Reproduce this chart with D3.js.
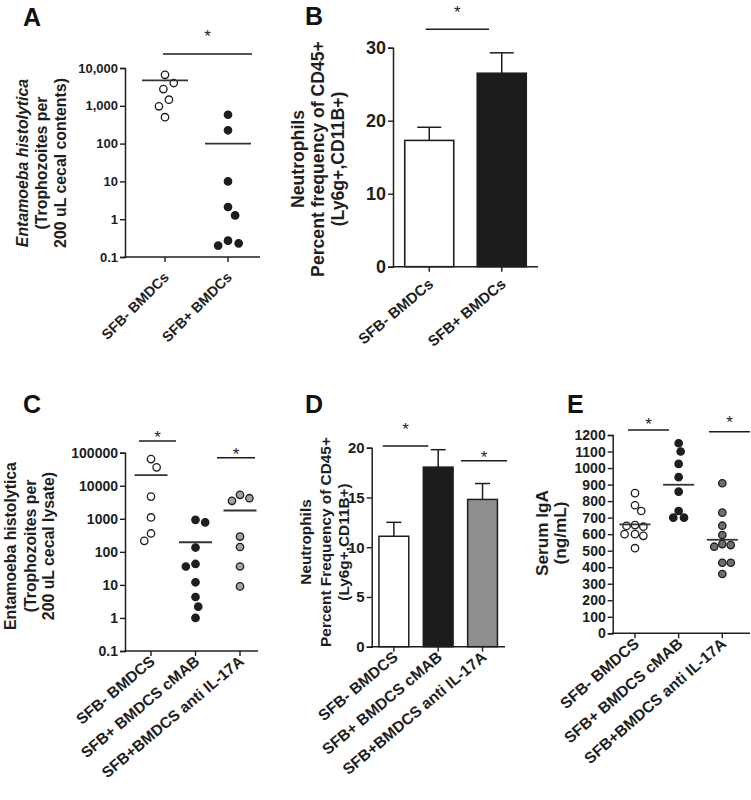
<!DOCTYPE html>
<html><head><meta charset="utf-8">
<script src="https://cdn.jsdelivr.net/npm/d3@7"></script>
<style>
body{margin:0;background:#fff;}
svg{display:block;font-family:"Liberation Sans",Arial,sans-serif;}
</style></head>
<body>
<svg id="chart" width="751" height="800"></svg>
<script>
// ---------- DATA ----------
const groupsA = ["SFB- BMDCs", "SFB+ BMDCs"];
const pointsA1 = [6600, 4000, 2770, 1450, 970, 500];
const pointsA2 = [580, 225, 10, 2.1, 1.26, 0.27, 0.2, 0.23];
const meansA = [4700, 100];
const ticksA = [0.1, 1, 10, 100, 1000, 10000];
const tickLabelsA = ["0.1", "1", "10", "100", "1,000", "10,000"];
const yLabelA = ["Entamoeba histolytica", "(Trophozoites per", "200 uL cecal contents)"];

const groupsB = ["SFB- BMDCs", "SFB+ BMDCs"];
const meansB = [17.3, 26.5];
const semB = [1.8, 2.8];
const ticksB = [0, 10, 20, 30];
const yLabelB = ["Neutrophils", "Percent frequency of CD45+", "(Ly6g+,CD11B+)"];

const groupsC = ["SFB- BMDCS", "SFB+ BMDCS cMAB", "SFB+BMDCS anti IL-17A"];
const pointsC1 = [64000, 36000, 4700, 1100, 360, 215];
const pointsC2 = [930, 780, 135, 43, 36, 12, 4.3, 2.2, 1.0];
const pointsC3 = [5300, 4200, 3500, 290, 140, 36, 9];
const meansC = [21000, 195, 1780];
const ticksC = [0.1, 1, 10, 100, 1000, 10000, 100000];
const tickLabelsC = ["0.1", "1", "10", "100", "1000", "10000", "100000"];
const yLabelC = ["Entamoeba histolytica", "(Trophozoites per", "200 uL cecal lysate)"];

const groupsD = ["SFB- BMDCS", "SFB+ BMDCS cMAB", "SFB+BMDCS anti IL-17A"];
const meansD = [11.1, 18.05, 14.8];
const semD = [1.4, 1.75, 1.6];
const ticksD = [0, 5, 10, 15, 20];
const yLabelD = ["Neutrophils", "Percent Frequency of CD45+", "(Ly6g+,CD11B+)"];

const groupsE = ["SFB- BMDCS", "SFB+ BMDCS cMAB", "SFB+BMDCS anti IL-17A"];
const pointsE1 = [848, 775, 740, 655, 650, 645, 600, 600, 590, 515];
const pointsE2 = [1150, 1100, 1025, 945, 857, 740, 700, 700];
const pointsE3 = [908, 730, 651, 595, 540, 534, 524, 427, 427, 359];
const meansE = [659, 899, 566];
const ticksE = [0, 100, 200, 300, 400, 500, 600, 700, 800, 900, 1000, 1100, 1200];
const yLabelE = ["Serum IgA", "(ng/mL)"];

// ---------- HELPERS ----------
const svg = d3.select("#chart");
const INK = "#1e1e1e";
const FONT = '"Liberation Sans",Arial,sans-serif';

function yAxis(g, scale, x, ticks, labels, fs) {
  const ax = d3.axisLeft(scale).tickValues(ticks).tickSizeOuter(0).tickSize(5).tickPadding(2)
    .tickFormat((d, i) => labels ? labels[i] : d);
  const a = g.append("g").attr("transform", `translate(${x},0)`).call(ax);
  a.select(".domain").attr("stroke", INK).attr("stroke-width", 1.5);
  a.selectAll(".tick line").attr("stroke", INK).attr("stroke-width", 1.4);
  a.selectAll("text").attr("font-family", FONT).attr("font-weight", "bold")
    .attr("font-size", fs).attr("fill", INK);
}

// fit a set of texts so the reference line reaches a target length
function fit(sel, refIdx, fs0, target) {
  sel.attr("font-size", fs0);
  const len = sel.nodes()[refIdx].getComputedTextLength();
  sel.attr("font-size", fs0 * target / len);
}

function xAxis(g, centers, labels, x0, x1, y, dx, dy, ang, target) {
  g.append("line").attr("x1", x0 - 0.75).attr("x2", x1).attr("y1", y).attr("y2", y)
    .attr("stroke", INK).attr("stroke-width", 1.5);
  centers.forEach((cx) => {
    g.append("line").attr("x1", cx).attr("x2", cx).attr("y1", y).attr("y2", y + 5)
      .attr("stroke", INK).attr("stroke-width", 1.4);
  });
  const t = g.selectAll(null).data(labels).enter().append("text")
    .attr("transform", (d, i) => `translate(${centers[i] + dx},${y + dy}) rotate(${-ang})`)
    .attr("text-anchor", "end").attr("font-family", FONT).attr("font-weight", "bold")
    .attr("fill", INK).text(d => d);
  fit(t, labels.length - 1, 16, target);
}

function yLabel(g, lines, xs, cy, refIdx, target, italicFirst) {
  const t = g.selectAll(null).data(lines).enter().append("text")
    .attr("transform", (d, i) => `translate(${xs[i]},${cy}) rotate(-90)`)
    .attr("text-anchor", "middle").attr("dominant-baseline", "central")
    .attr("font-family", FONT).attr("font-weight", "bold")
    .attr("font-style", (d, i) => italicFirst && i === 0 ? "italic" : "normal")
    .attr("fill", INK).text(d => d);
  fit(t, refIdx, 16, target);
}

function letter(g, t, x, y) {
  g.append("text").attr("x", x).attr("y", y).attr("font-family", FONT).attr("font-weight", "bold")
    .attr("font-size", 25).attr("fill", "#111").text(t);
}

function sig(g, x1, x2, y, starY) {
  g.append("line").attr("x1", x1).attr("x2", x2).attr("y1", y).attr("y2", y)
    .attr("stroke", INK).attr("stroke-width", 1.5);
  g.append("text").attr("x", (x1 + x2) / 2).attr("y", starY + 10).attr("text-anchor", "middle")
    .attr("font-family", FONT).attr("font-size", 17)
    .attr("fill", INK).text("*");
}

// beeswarm offsets (pixel) computed from pixel y positions
function swarm(ys, D) {
  const placed = [];
  let flip = 1;
  return ys.map(y => {
    const cands = [0];
    placed.forEach(p => {
      const dy = Math.abs(p.y - y);
      if (dy < D) { const dx = Math.sqrt(D * D - dy * dy); cands.push(p.x + dx, p.x - dx); }
    });
    const ok = cands.filter(c => placed.every(p => Math.hypot(p.x - c, p.y - y) >= D - 0.01));
    ok.sort((a, b) => (Math.abs(a) - Math.abs(b)) || (flip * (b - a)));
    const x = ok[0];
    if (x !== 0) flip = -flip;
    placed.push({ x, y });
    return x;
  });
}

function dots(g, vals, cx, scale, fill, stroke, D) {
  const ys = vals.map(v => scale(v));
  const off = swarm(ys, D);
  g.selectAll(null).data(vals).enter().append("circle")
    .attr("cx", (d, i) => cx + off[i]).attr("cy", d => scale(d)).attr("r", 3.7)
    .attr("fill", fill).attr("stroke", stroke).attr("stroke-width", 1.3);
}

function meanLine(g, cx, y, w) {
  g.append("line").attr("x1", cx - w / 2).attr("x2", cx + w / 2).attr("y1", y).attr("y2", y)
    .attr("stroke", "#333").attr("stroke-width", 1.8);
}

// ---------- PANEL A ----------
{
  const g = svg.append("g");
  const y = d3.scaleLog().domain([0.1, 10000]).range([257, 68]);
  const x = d3.scalePoint().domain(groupsA).range([165, 228]);
  yAxis(g, y, 125, ticksA, tickLabelsA, 13);
  xAxis(g, groupsA.map(d => x(d)), groupsA, 125, 260, 257, 5, 21, 45, 92);
  dots(g, pointsA1, x(groupsA[0]), y, "#fff", INK, 12);
  dots(g, pointsA2, x(groupsA[1]), y, INK, INK, 11);
  meansA.forEach((m, i) => meanLine(g, x(groupsA[i]), y(m), 46));
  sig(g, 163, 252, 54, 32);
  yLabel(g, yLabelA, [22, 41, 60], 163, 2, 170, true);
  letter(g, "A", 23, 26);
}

// ---------- PANEL B ----------
{
  const g = svg.append("g");
  const y = d3.scaleLinear().domain([0, 30]).range([266.7, 47.7]);
  const x = d3.scaleBand().domain(groupsB).range([393, 538]).paddingInner(0.324).paddingOuter(0.162);
  const fills = ["#fff", "#1c1c1c"];
  groupsB.forEach((gname, i) => {
    const cx = x(gname) + x.bandwidth() / 2;
    g.append("line").attr("x1", cx).attr("x2", cx).attr("y1", y(meansB[i])).attr("y2", y(meansB[i] + semB[i]))
      .attr("stroke", INK).attr("stroke-width", 1.5);
    g.append("line").attr("x1", cx - 12).attr("x2", cx + 12).attr("y1", y(meansB[i] + semB[i])).attr("y2", y(meansB[i] + semB[i]))
      .attr("stroke", INK).attr("stroke-width", 1.5);
    g.append("rect").attr("x", x(gname)).attr("width", x.bandwidth())
      .attr("y", y(meansB[i])).attr("height", y(0) - y(meansB[i]))
      .attr("fill", fills[i]).attr("stroke", INK).attr("stroke-width", 1.6);
  });
  yAxis(g, y, 393, ticksB, null, 18);
  xAxis(g, groupsB.map(d => x(d) + x.bandwidth() / 2), groupsB, 393, 538, 266.7, 5, 19, 40, 96);
  sig(g, 425.7, 489, 29.3, 8);
  yLabel(g, yLabelB, [297.7, 318, 338], 159, 1, 236, false);
  letter(g, "B", 305, 25);
}

// ---------- PANEL C ----------
{
  const g = svg.append("g");
  const y = d3.scaleLog().domain([0.1, 100000]).range([651, 452.7]);
  const x = d3.scalePoint().domain(groupsC).range([151, 240]);
  yAxis(g, y, 125, ticksC, tickLabelsC, 14);
  xAxis(g, groupsC.map(d => x(d)), groupsC, 125, 258, 651, 5, 12, 40, 180);
  dots(g, pointsC1, x(groupsC[0]), y, "#fff", INK, 10);
  dots(g, pointsC2, x(groupsC[1]), y, INK, INK, 10);
  dots(g, pointsC3, x(groupsC[2]), y, "#a3a3a3", INK, 10);
  meansC.forEach((m, i) => meanLine(g, x(groupsC[i]), y(m), 33));
  sig(g, 139, 176, 441, 433);
  sig(g, 217, 255, 457.7, 450);
  yLabel(g, yLabelC, [10, 30, 48], 546, 0, 168, false);
  letter(g, "C", 23, 413);
}

// ---------- PANEL D ----------
{
  const g = svg.append("g");
  const y = d3.scaleLinear().domain([0, 20]).range([646.7, 447.7]);
  const x = d3.scaleBand().domain(groupsD).range([371.7, 504.7]).paddingInner(0.328).paddingOuter(0.164);
  const fills = ["#fff", "#1c1c1c", "#8f8f8f"];
  groupsD.forEach((gname, i) => {
    const cx = x(gname) + x.bandwidth() / 2;
    g.append("line").attr("x1", cx).attr("x2", cx).attr("y1", y(meansD[i])).attr("y2", y(meansD[i] + semD[i]))
      .attr("stroke", INK).attr("stroke-width", 1.5);
    g.append("line").attr("x1", cx - 7.5).attr("x2", cx + 7.5).attr("y1", y(meansD[i] + semD[i])).attr("y2", y(meansD[i] + semD[i]))
      .attr("stroke", INK).attr("stroke-width", 1.5);
    g.append("rect").attr("x", x(gname)).attr("width", x.bandwidth())
      .attr("y", y(meansD[i])).attr("height", y(0) - y(meansD[i]))
      .attr("fill", fills[i]).attr("stroke", INK).attr("stroke-width", 1.5);
  });
  yAxis(g, y, 371.7, ticksD, null, 15);
  xAxis(g, groupsD.map(d => x(d) + x.bandwidth() / 2), groupsD, 371.7, 505, 646.7, 5, 12, 40, 182);
  sig(g, 382.7, 428.3, 446, 425);
  sig(g, 461, 507, 460.7, 453);
  yLabel(g, yLabelD, [305, 325, 343], 542, 1, 210, false);
  letter(g, "D", 305, 413);
}

// ---------- PANEL E ----------
{
  const g = svg.append("g");
  const y = d3.scaleLinear().domain([0, 1200]).range([633.3, 435]);
  const x = d3.scalePoint().domain(groupsE).range([635, 722.3]);
  yAxis(g, y, 612.7, ticksE, null, 14);
  xAxis(g, groupsE.map(d => x(d)), groupsE, 612.7, 750, 633.3, 5, 12, 41, 182);
  dots(g, pointsE1, x(groupsE[0]), y, "#fff", INK, 8.5);
  dots(g, pointsE2, x(groupsE[1]), y, INK, INK, 8.5);
  dots(g, pointsE3, x(groupsE[2]), y, "#6e6e6e", INK, 8.5);
  meansE.forEach((m, i) => meanLine(g, x(groupsE[i]), y(m), 31));
  sig(g, 628, 669, 430, 420);
  sig(g, 709, 750, 431.7, 418);
  yLabel(g, yLabelE, [541.7, 560], 533, 0, 86, false);
  letter(g, "E", 567, 413);
}
</script>
</body></html>
